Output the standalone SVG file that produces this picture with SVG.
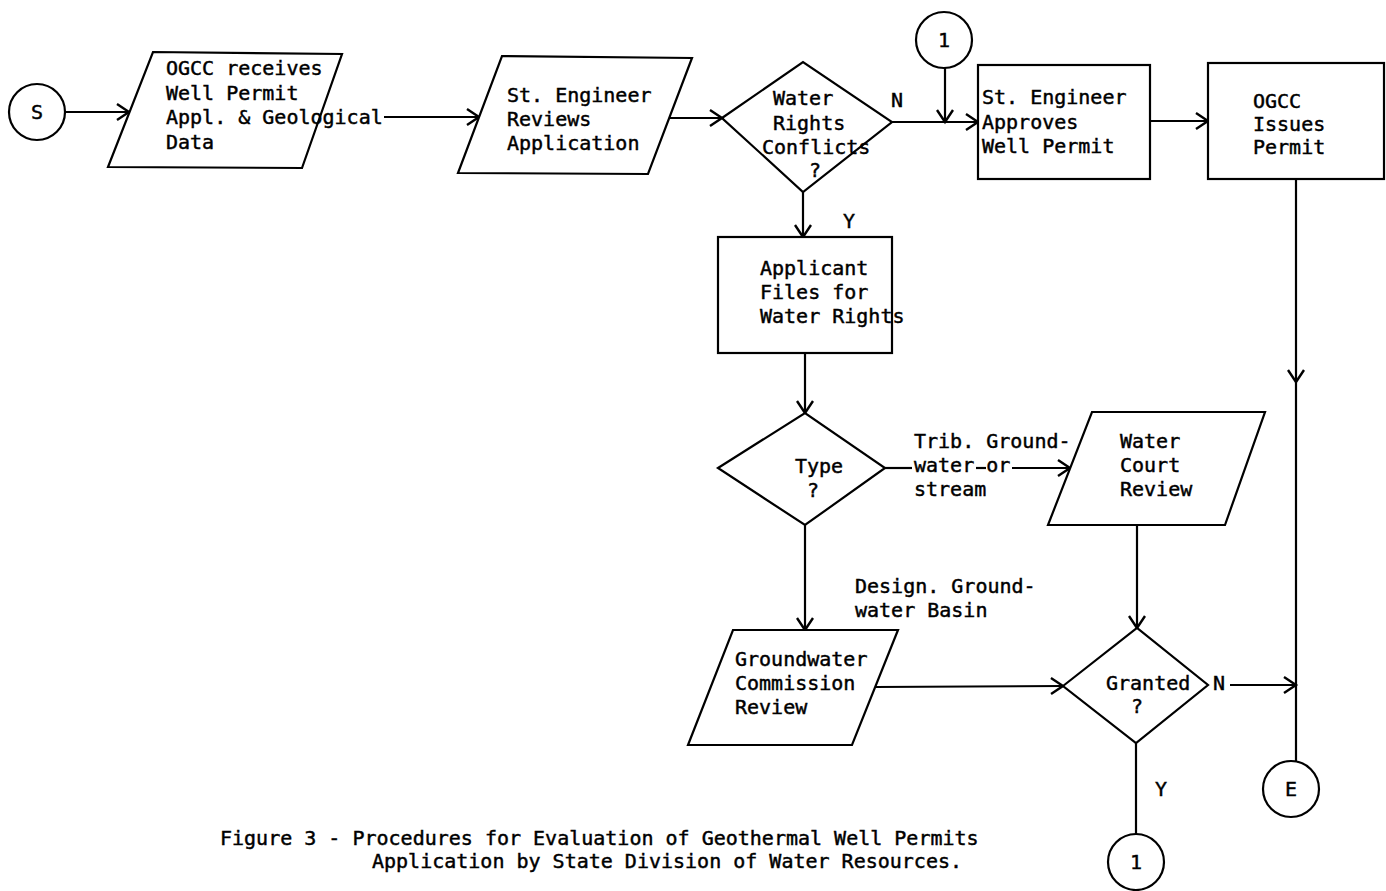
<svg xmlns="http://www.w3.org/2000/svg" width="1386" height="891" viewBox="0 0 1386 891">
<style>
.s{fill:#fff;stroke:#000;stroke-width:2.2}
.l{fill:none;stroke:#000;stroke-width:2.2}
.a{fill:none;stroke:#000;stroke-width:2.2;marker-end:url(#arr)}
text{font-family:"DejaVu Sans Mono","Liberation Mono",monospace;font-size:20px;fill:#000;stroke:#000;stroke-width:0.45}
.c{text-anchor:middle}
</style>
<defs>
<marker id="arr" markerUnits="userSpaceOnUse" markerWidth="16" markerHeight="20" refX="13" refY="9" orient="auto">
<path d="M1,1 L13,9 L1,17" fill="none" stroke="#000" stroke-width="2.4"/>
</marker>
</defs>
<rect width="1386" height="891" fill="#fff"/>
<g id="connectors">
<line class="a" x1="65" y1="112" x2="129" y2="112"/>
<line class="a" x1="384" y1="117" x2="479" y2="117"/>
<line class="a" x1="669" y1="118" x2="722" y2="118"/>
<polyline class="a" points="892,122 978,122"/>
<line class="a" x1="945" y1="68" x2="945" y2="122"/>
<line class="a" x1="1150" y1="121" x2="1208" y2="121"/>
<line class="a" x1="1296" y1="179" x2="1296" y2="382"/>
<line class="l" x1="1296" y1="382" x2="1296" y2="761"/>
<line class="a" x1="803" y1="192" x2="803" y2="237"/>
<line class="a" x1="805" y1="353" x2="805" y2="413"/>
<line class="l" x1="885" y1="468" x2="912" y2="468"/>
<line class="l" x1="976" y1="468" x2="986" y2="468"/>
<line class="a" x1="1012" y1="468" x2="1070" y2="468"/>
<line class="a" x1="805" y1="525" x2="805" y2="630"/>
<line class="a" x1="875" y1="687" x2="1063" y2="686"/>
<line class="a" x1="1137" y1="525" x2="1137" y2="628"/>
<line class="a" x1="1230" y1="685" x2="1296" y2="685"/>
<line class="l" x1="1136" y1="743" x2="1136" y2="834"/>
</g>
<g id="start">
<circle class="s" cx="37" cy="112" r="28"/>
<text class="c" x="37" y="119">S</text>
</g>
<g id="receive">
<polygon class="s" points="153,52 342,54 302,168 108,167"/>
<text x="166" y="75">OGCC receives</text>
<text x="166" y="100">Well Permit</text>
<text x="166" y="124">Appl. &amp; Geological</text>
<text x="166" y="149">Data</text>
</g>
<g id="review">
<polygon class="s" points="502,56 692,58 648,174 458,173"/>
<text x="507" y="102">St. Engineer</text>
<text x="507" y="126">Reviews</text>
<text x="507" y="150">Application</text>
</g>
<g id="conflicts">
<polygon class="s" points="722,118 803,62 892,122 803,192"/>
<text x="773" y="105">Water</text>
<text x="773" y="130">Rights</text>
<text x="762" y="154">Conflicts</text>
<text x="809" y="177">?</text>
<text x="891" y="107">N</text>
<text x="843" y="228">Y</text>
</g>
<g id="conn1top">
<circle class="s" cx="944" cy="40" r="28"/>
<text class="c" x="944" y="47">1</text>
</g>
<g id="approves">
<rect class="s" x="978" y="65" width="172" height="114"/>
<text x="982" y="104">St. Engineer</text>
<text x="982" y="129">Approves</text>
<text x="982" y="153">Well Permit</text>
</g>
<g id="issues">
<rect class="s" x="1208" y="63" width="176" height="116"/>
<text x="1253" y="108">OGCC</text>
<text x="1253" y="131">Issues</text>
<text x="1253" y="154">Permit</text>
</g>
<g id="applicant">
<rect class="s" x="718" y="237" width="174" height="116"/>
<text x="760" y="275">Applicant</text>
<text x="760" y="299">Files for</text>
<text x="760" y="323">Water Rights</text>
</g>
<g id="type">
<polygon class="s" points="718,468 805,413 885,468 805,525"/>
<text x="795" y="473">Type</text>
<text x="807" y="497">?</text>
<text x="914" y="448">Trib. Ground-</text>
<text x="914" y="472">water or</text>
<text x="914" y="496">stream</text>
</g>
<g id="court">
<polygon class="s" points="1092,412 1265,412 1225,525 1048,525"/>
<text x="1120" y="448">Water</text>
<text x="1120" y="472">Court</text>
<text x="1120" y="496">Review</text>
</g>
<g id="commission">
<text x="855" y="593">Design. Ground-</text>
<text x="855" y="617">water Basin</text>
<polygon class="s" points="733,630 898,630 852,745 688,745"/>
<text x="735" y="666">Groundwater</text>
<text x="735" y="690">Commission</text>
<text x="735" y="714">Review</text>
</g>
<g id="granted">
<polygon class="s" points="1063,686 1137,628 1208,685 1136,743"/>
<text x="1106" y="690">Granted</text>
<text x="1131" y="713">?</text>
<text x="1213" y="690">N</text>
<text x="1155" y="796">Y</text>
</g>
<g id="end">
<circle class="s" cx="1291" cy="789" r="28"/>
<text class="c" x="1291" y="796">E</text>
</g>
<g id="conn1bottom">
<circle class="s" cx="1136" cy="862" r="28"/>
<text class="c" x="1136" y="869">1</text>
</g>
<g id="caption">
<text x="220" y="845">Figure 3 - Procedures for Evaluation of Geothermal Well Permits</text>
<text x="372" y="868">Application by State Division of Water Resources.</text>
</g>
</svg>
